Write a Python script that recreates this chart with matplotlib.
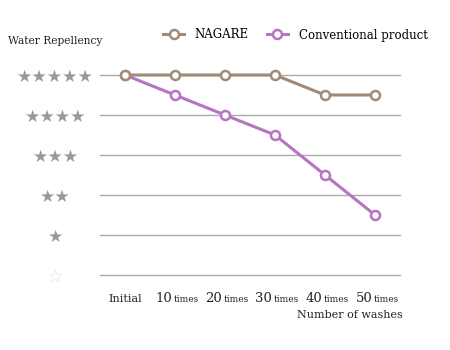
import matplotlib
matplotlib.use("Agg")
import matplotlib.pyplot as plt

# data
washes = ["Initial", "10", "20", "30", "40", "50"]
nagare = [5, 5, 5, 5, 4.5, 4.5]
conventional = [5, 4.5, 4, 3.5, 2.5, 1.5]
star_labels = ["\u2606", "\u2605", "\u2605\u2605", "\u2605\u2605\u2605",
               "\u2605\u2605\u2605\u2605", "\u2605\u2605\u2605\u2605\u2605"]

brown = "#a28b76"
purple = "#b774c2"
serif = "DejaVu Serif"

fig = plt.figure(figsize=(4.5, 3.5), dpi=100)
ax = fig.add_axes([100/450, 75/350, 300/450, 200/350])

x = list(range(len(washes)))
ax.plot(x, nagare, color=brown, lw=2.2, marker="o", ms=6.5, mfc="white",
        mec=brown, mew=1.8, clip_on=False, zorder=4, label="NAGARE")
ax.plot(x, conventional, color=purple, lw=2.2, marker="o", ms=6.5, mfc="white",
        mec=purple, mew=1.8, clip_on=False, zorder=3, label="Conventional product")

ax.set_xlim(-0.5, 5.5)
ax.set_ylim(0, 5)
for s in ax.spines.values():
    s.set_visible(False)
ax.set_yticks(range(6))
ax.yaxis.grid(True, color="#aaaaaa", lw=1)
for g in ax.get_ygridlines():
    g.set_clip_on(False)
ax.set_axisbelow(True)
ax.tick_params(axis="y", length=0, pad=32)
ax.set_yticklabels(star_labels, ha="center", fontsize=12.3, family="DejaVu Sans")
for i, t in enumerate(ax.get_yticklabels()):
    t.set_color("#dddddd" if i == 0 else "#999999")

ax.set_xticks([])
for i, w in enumerate(washes):
    if i == 0:
        ax.annotate(w, xy=(i, 0), xytext=(0, -17), textcoords="offset points",
                    xycoords=("data", "axes fraction"), ha="center", va="center",
                    fontsize=8, family=serif, color="#222222")
    else:
        ax.annotate(w, xy=(i, 0), xytext=(-2, -17), textcoords="offset points",
                    xycoords=("data", "axes fraction"), ha="right", va="center",
                    fontsize=9.5, family=serif, color="#222222")
        ax.annotate("times", xy=(i, 0), xytext=(-1, -17.5), textcoords="offset points",
                    xycoords=("data", "axes fraction"), ha="left", va="center",
                    fontsize=6.5, family=serif, color="#222222")

fig.text(403/450, 1 - 315/350, "Number of washes", ha="right", va="center",
         fontsize=8, family=serif, color="#222222")
fig.text(8/450, 1 - 41/350, "Water Repellency", ha="left", va="center",
         fontsize=7.7, family=serif, color="#222222")

fig.legend(loc="center left", bbox_to_anchor=(163/450, 1 - 35/350), ncol=2,
           frameon=False, prop={"family": serif, "size": 8.5},
           handlelength=1.8, columnspacing=1.5, handletextpad=0.9,
           borderaxespad=0, borderpad=0)

fig.savefig("out.png", dpi=100)
